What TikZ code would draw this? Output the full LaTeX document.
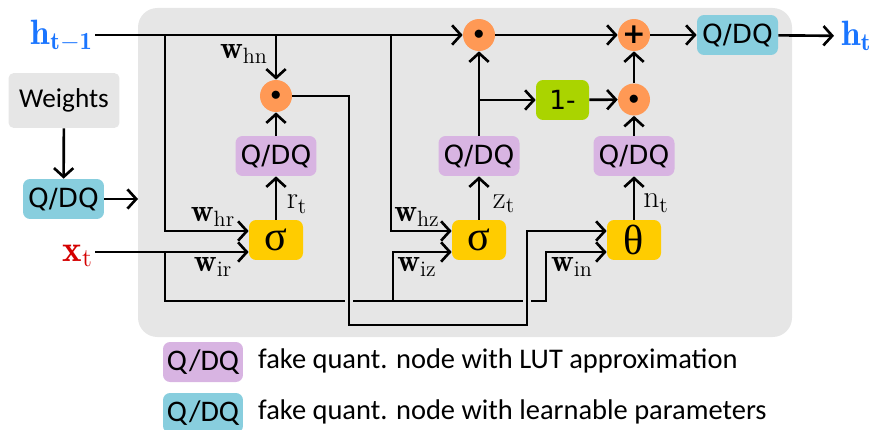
\documentclass[tikz,border=0pt]{standalone}
\usepackage{amsmath,amssymb}
\usepackage{fontspec}
\usepackage{tikz}
\usepackage{xcolor}
\usetikzlibrary{arrows.meta,calc}
\newfontfamily\calibri{Carlito}
\newfontfamily\verdana{DejaVu Sans}
\newfontfamily\greek{Liberation Serif}
\definecolor{panel}{HTML}{E6E6E6}
\definecolor{lutpurple}{HTML}{D8B4E2}
\definecolor{lrnblue}{HTML}{88CEDE}
\definecolor{actyellow}{HTML}{FFCC00}
\definecolor{oporange}{HTML}{FF9955}
\definecolor{onegreen}{HTML}{AAD400}
\definecolor{hblue}{HTML}{1A75FF}
\definecolor{xred}{HTML}{D40000}

\begin{document}
\begin{tikzpicture}[
  x=0.02cm, y=-0.02cm,
  >={Straight Barb[length=5pt,width=11pt]},
  wire/.style={line width=1.5pt, ->},
  gap/.style={draw=panel, line width=5pt},
  box/.style={rounded corners=4pt, inner sep=0pt, minimum height=0.8cm},
  lut/.style={box, fill=lutpurple, minimum width=1.62cm, font=\verdana\fontsize{15}{15}\selectfont},
  lrn/.style={lut, fill=lrnblue},
  act/.style={box, fill=actyellow, minimum width=1.08cm, font=\greek\fontsize{24}{24}\selectfont},
  op/.style={circle, fill=oporange, minimum size=0.64cm, inner sep=0pt},
  wlab/.style={font=\fontsize{18}{18}\selectfont, inner sep=0pt},
  io/.style={font=\fontsize{20}{20}\selectfont, inner sep=1pt},
  legend/.style={box, minimum width=1.6cm, font=\calibri\fontsize{17}{17}\selectfont},
]
\useasboundingbox (0,0) rectangle (874,429);
\fill[panel, rounded corners=11pt] (138,8) rectangle (792,337);

% inputs and weights
\node[io, text=hblue, anchor=east] (hprev) at (95,36) {$\mathbf{h}_{\mathbf{t-1}}$};
\node[io, text=xred, anchor=east, font=\fontsize{21}{21}\selectfont] (xt) at (95,256) {$\mathbf{x}_{\mathrm{t}}$};
\node[box, fill=panel, rounded corners=3pt, minimum width=2.22cm, minimum height=1.1cm,
      font=\calibri\fontsize{15.5}{15.5}\selectfont] (weights) at (64,100.5) {Weights};
\node[lrn] (qin) at (63.5,199) {Q/DQ};
\coordinate (qend) at (138,199);

% gates
\node[act] (sigr)  at (276,240) {σ};
\node[act] (sigz)  at (479,240) {σ};
\node[act] (theta) at (634,240) {θ};
\node[lut] (qr) at (276,156) {Q/DQ};
\node[lut] (qz) at (479,156) {Q/DQ};
\node[lut] (qn) at (634,156) {Q/DQ};
\node[op] (dotr) at (276,96) {\fontsize{13}{13}\selectfont$\bullet$};
\node[op] (dotz) at (479,35) {\fontsize{13}{13}\selectfont$\bullet$};
\node[op] (dotn) at (634,99.5) {\fontsize{13}{13}\selectfont$\bullet$};
\node[op] (plus) at (634,35) {\verdana\bfseries\fontsize{16}{16}\selectfont +};
\node[box, fill=onegreen, minimum width=1.06cm, font=\verdana\fontsize{15}{15}\selectfont] (one) at (562.5,100) {1-};
\node[lrn] (qout) at (737.5,35) {Q/DQ};
\node[io, text=hblue, anchor=west, inner sep=4pt] (ht) at (834,36) {$\mathbf{h}_{\mathbf{t}}$};

% input points of the gates
\coordinate (r1) at ($(sigr.west)+(0,-9)$);
\coordinate (r2) at ($(sigr.west)+(0,12)$);
\coordinate (z1) at ($(sigz.west)+(0,-9)$);
\coordinate (z2) at ($(sigz.west)+(0,12)$);
\coordinate (n1) at ($(theta.west)+(0,-9)$);
\coordinate (n2) at ($(theta.west)+(0,12)$);
\coordinate (jr) at (165,35);
\coordinate (jz) at (391,35);
\coordinate (xz) at (393,301);
\coordinate (xn) at (546,301);
\coordinate (ra) at (349,325);
\coordinate (rb) at (527,325);

% wires
\draw[wire] (weights) -- (qin);
\draw[wire] (qin) -- (qend);
\draw[wire] (hprev.east |- dotz) -- (dotz);
\draw[wire] (jr) |- (r1);
\draw[wire] (jz) |- (z1);
\draw[wire] (dotr |- jr) -- (dotr);
\draw[wire] (xt.east |- r2) -- (r2);
\draw[wire] (jr |- r2) |- (xn) |- (n2);
\draw[wire] (xz) |- (z2);
\draw[gap] (ra) -- ++(0,-40);
\draw[gap] (rb) -- ++(0,-40);
\draw[wire] (dotr.east) -| (ra) -- (rb) |- (n1);
\draw[wire] (sigr) -- (qr);
\draw[wire] (sigz) -- (qz);
\draw[wire] (theta) -- (qn);
\draw[wire] (qr) -- (dotr);
\draw[wire] (qz) -- (dotz);
\draw[wire] (qz.north |- one) -- (one);
\draw[wire] (qn) -- (dotn);
\draw[wire] (one) -- (dotn);
\draw[wire] (dotn) -- (plus);
\draw[wire] (dotz) -- (plus);
\draw[wire] (plus) -- (qout);
\draw[wire] (qout) -- (ht);

% gate outputs
\node[wlab] (rt) at (297,204) {$\mathrm{r_t}$};
\node[wlab] (zt) at (504,204) {$\mathrm{z_t}$};
\node[wlab] (nt) at (656,203) {$\mathrm{n_t}$};

% weight labels
\node[wlab] (whr) at (213,217) {$\mathbf{w}_{\mathrm{hr}}$};
\node[wlab] (wir) at (213,267) {$\mathbf{w}_{\mathrm{ir}}$};
\node[wlab] (whn) at (244,54) {$\mathbf{w}_{\mathrm{hn}}$};
\node[wlab] (whz) at (417,217) {$\mathbf{w}_{\mathrm{hz}}$};
\node[wlab] (wiz) at (417,267) {$\mathbf{w}_{\mathrm{iz}}$};
\node[wlab] (win) at (572,267) {$\mathbf{w}_{\mathrm{in}}$};

% Legend
\node[legend, fill=lutpurple] (leglut) at (203,362) {Q/DQ};
\node[legend, fill=lrnblue] (leglrn) at (203,413) {Q/DQ};
\node[anchor=west, font=\calibri\fontsize{16.2}{16.2}\selectfont] (txtlut) at (252,361) {fake quant. node with LUT approximation};
\node[anchor=west, font=\calibri\fontsize{16.2}{16.2}\selectfont] (txtlrn) at (252,412) {fake quant. node with learnable parameters};
\end{tikzpicture}
\end{document}
